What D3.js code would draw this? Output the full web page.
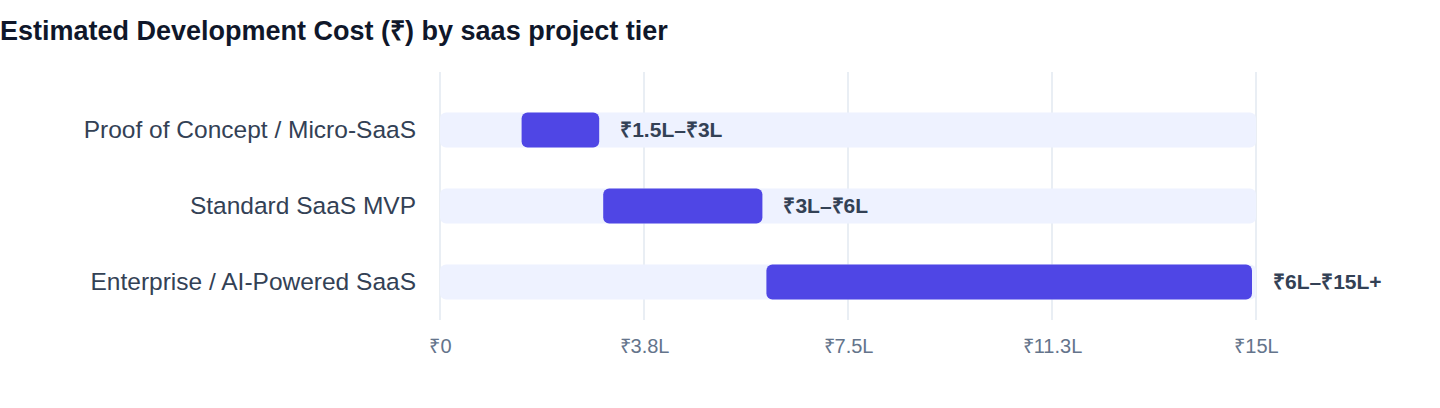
<!DOCTYPE html>
<html>
<head>
<meta charset="utf-8">
<script src="https://cdn.jsdelivr.net/npm/d3@7"></script>
<style>
  body { margin: 0; background: #fff; font-family: "Liberation Sans", Arial, sans-serif; }
</style>
</head>
<body>
<svg id="chart" width="1440" height="408"></svg>
<script>
// tiers and cost ranges (in lakh rupees)
var tiers = ["Proof of Concept / Micro-SaaS", "Standard SaaS MVP", "Enterprise / AI-Powered SaaS"]
var costLow = [1.5, 3, 6]
var costHigh = [3, 6, 15]
var rangeLabels = ["₹1.5L–₹3L", "₹3L–₹6L", "₹6L–₹15L+"]
var tickValues = [0, 3.75, 7.5, 11.25, 15]
var tickLabels = ["₹0", "₹3.8L", "₹7.5L", "₹11.3L", "₹15L"]

var svg = d3.select("#chart")

// title
svg.append("text")
    .attr("x", 0)
    .attr("y", 40)
    .style("font-size", "27px")
    .style("font-weight", "bold")
    .style("fill", "#0f172a")
    .text("Estimated Development Cost (₹) by saas project tier")

var x = d3.scaleLinear().domain([0, 15]).range([440, 1256])
var y = d3.scaleBand().domain(tiers).range([92, 320]).paddingInner(0.54).paddingOuter(0.27)

// gridlines
svg.append("g").selectAll("line")
    .data(tickValues)
    .enter().append("line")
    .attr("x1", function(d) { return x(d) })
    .attr("x2", function(d) { return x(d) })
    .attr("y1", 72)
    .attr("y2", 320)
    .style("stroke", "#e2e8f0")
    .style("stroke-width", 1.5)

// x axis labels
var xAxis = d3.axisBottom(x)
    .tickValues(tickValues)
    .tickFormat(function(d, i) { return tickLabels[i] })
    .tickSize(0)
    .tickPadding(0)
var gx = svg.append("g").attr("transform", "translate(0,339)").call(xAxis)
gx.select(".domain").remove()
gx.selectAll("text")
    .style("font-family", "'Liberation Sans', Arial, sans-serif")
    .style("font-size", "20px")
    .style("fill", "#64748b")

// y axis labels
var yAxis = d3.axisLeft(y).tickSize(0).tickPadding(0)
var gy = svg.append("g").attr("transform", "translate(416,0)").call(yAxis)
gy.select(".domain").remove()
gy.selectAll("text")
    .style("font-family", "'Liberation Sans', Arial, sans-serif")
    .style("font-size", "24.5px")
    .style("fill", "#334155")

// background tracks
svg.append("g").selectAll("rect")
    .data(tiers)
    .enter().append("rect")
    .attr("x", x(0))
    .attr("y", function(d) { return y(d) })
    .attr("width", x(15) - x(0))
    .attr("height", y.bandwidth())
    .attr("rx", 6)
    .style("fill", "#eef2ff")

// range bars
svg.append("g").selectAll("rect")
    .data(tiers)
    .enter().append("rect")
    .attr("x", function(d, i) { return x(costLow[i]) })
    .attr("y", function(d) { return y(d) })
    .attr("width", function(d, i) { return x(costHigh[i]) - x(costLow[i]) - 4 })
    .attr("height", y.bandwidth())
    .attr("rx", 6)
    .style("fill", "#4f46e5")

// range labels
svg.append("g").selectAll("text")
    .data(tiers)
    .enter().append("text")
    .attr("x", function(d, i) { return x(costHigh[i]) + 17 })
    .attr("y", function(d) { return y(d) + y.bandwidth() / 2 })
    .attr("dy", "0.35em")
    .style("font-size", "21px")
    .style("font-weight", "bold")
    .style("fill", "#334155")
    .text(function(d, i) { return rangeLabels[i] })
</script>
</body>
</html>
